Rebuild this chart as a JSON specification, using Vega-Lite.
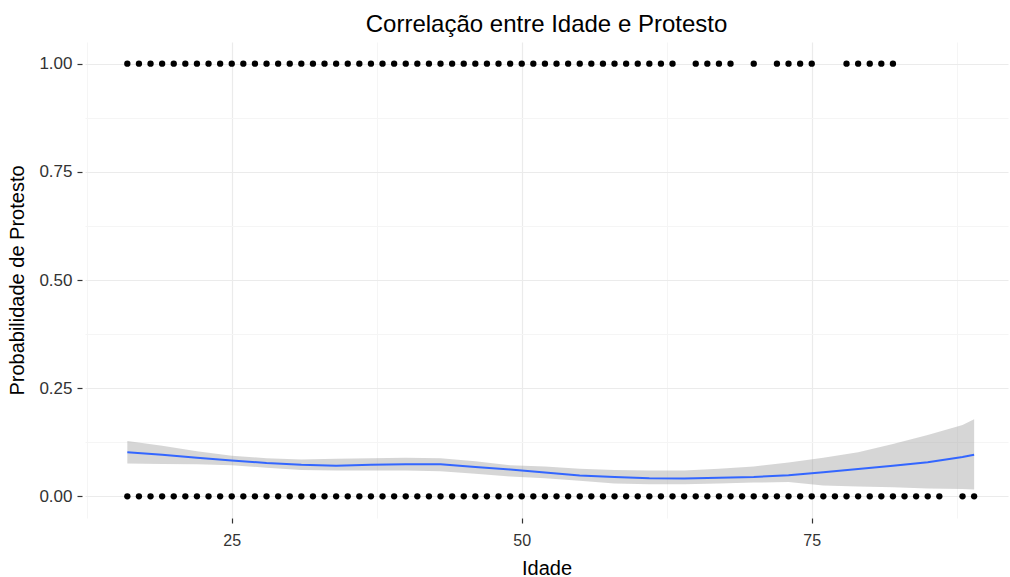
{
  "$schema": "https://vega.github.io/schema/vega-lite/v6.json",
  "width": 923,
  "height": 476,
  "autosize": {"type": "none"},
  "padding": {"left": 85, "top": 42, "right": 2, "bottom": 59},
  "title": {"text": "Correlação entre Idade e Protesto", "font": "Liberation Sans", "fontSize": 24, "fontWeight": "normal", "color": "#000000", "anchor": "middle", "offset": 5},
  "config": {
    "view": {"stroke": null},
    "axis": {"labelFont": "Liberation Sans", "titleFont": "Liberation Sans", "labelColor": "#333333", "titleColor": "#000000", "titleFontWeight": "normal", "domain": false}
  },
  "datasets": {
    "pontos": [
      {"idade": 16, "protesto": 1}, {"idade": 17, "protesto": 1}, {"idade": 18, "protesto": 1}, {"idade": 19, "protesto": 1}, {"idade": 20, "protesto": 1}, {"idade": 21, "protesto": 1}, {"idade": 22, "protesto": 1}, {"idade": 23, "protesto": 1}, {"idade": 24, "protesto": 1}, {"idade": 25, "protesto": 1}, {"idade": 26, "protesto": 1}, {"idade": 27, "protesto": 1}, {"idade": 28, "protesto": 1}, {"idade": 29, "protesto": 1}, {"idade": 30, "protesto": 1}, {"idade": 31, "protesto": 1}, {"idade": 32, "protesto": 1}, {"idade": 33, "protesto": 1}, {"idade": 34, "protesto": 1}, {"idade": 35, "protesto": 1}, {"idade": 36, "protesto": 1}, {"idade": 37, "protesto": 1}, {"idade": 38, "protesto": 1}, {"idade": 39, "protesto": 1}, {"idade": 40, "protesto": 1}, {"idade": 41, "protesto": 1}, {"idade": 42, "protesto": 1}, {"idade": 43, "protesto": 1}, {"idade": 44, "protesto": 1}, {"idade": 45, "protesto": 1}, {"idade": 46, "protesto": 1}, {"idade": 47, "protesto": 1}, {"idade": 48, "protesto": 1}, {"idade": 49, "protesto": 1}, {"idade": 50, "protesto": 1}, {"idade": 51, "protesto": 1}, {"idade": 52, "protesto": 1}, {"idade": 53, "protesto": 1}, {"idade": 54, "protesto": 1}, {"idade": 55, "protesto": 1}, {"idade": 56, "protesto": 1}, {"idade": 57, "protesto": 1}, {"idade": 58, "protesto": 1}, {"idade": 59, "protesto": 1}, {"idade": 60, "protesto": 1}, {"idade": 61, "protesto": 1}, {"idade": 62, "protesto": 1}, {"idade": 63, "protesto": 1},
      {"idade": 65, "protesto": 1}, {"idade": 66, "protesto": 1}, {"idade": 67, "protesto": 1}, {"idade": 68, "protesto": 1}, {"idade": 70, "protesto": 1}, {"idade": 72, "protesto": 1}, {"idade": 73, "protesto": 1}, {"idade": 74, "protesto": 1}, {"idade": 75, "protesto": 1}, {"idade": 78, "protesto": 1}, {"idade": 79, "protesto": 1}, {"idade": 80, "protesto": 1}, {"idade": 81, "protesto": 1}, {"idade": 82, "protesto": 1},
      {"idade": 16, "protesto": 0}, {"idade": 17, "protesto": 0}, {"idade": 18, "protesto": 0}, {"idade": 19, "protesto": 0}, {"idade": 20, "protesto": 0}, {"idade": 21, "protesto": 0}, {"idade": 22, "protesto": 0}, {"idade": 23, "protesto": 0}, {"idade": 24, "protesto": 0}, {"idade": 25, "protesto": 0}, {"idade": 26, "protesto": 0}, {"idade": 27, "protesto": 0}, {"idade": 28, "protesto": 0}, {"idade": 29, "protesto": 0}, {"idade": 30, "protesto": 0}, {"idade": 31, "protesto": 0}, {"idade": 32, "protesto": 0}, {"idade": 33, "protesto": 0}, {"idade": 34, "protesto": 0}, {"idade": 35, "protesto": 0}, {"idade": 36, "protesto": 0}, {"idade": 37, "protesto": 0}, {"idade": 38, "protesto": 0}, {"idade": 39, "protesto": 0}, {"idade": 40, "protesto": 0}, {"idade": 41, "protesto": 0}, {"idade": 42, "protesto": 0}, {"idade": 43, "protesto": 0}, {"idade": 44, "protesto": 0}, {"idade": 45, "protesto": 0}, {"idade": 46, "protesto": 0}, {"idade": 47, "protesto": 0}, {"idade": 48, "protesto": 0}, {"idade": 49, "protesto": 0}, {"idade": 50, "protesto": 0}, {"idade": 51, "protesto": 0}, {"idade": 52, "protesto": 0}, {"idade": 53, "protesto": 0}, {"idade": 54, "protesto": 0}, {"idade": 55, "protesto": 0}, {"idade": 56, "protesto": 0}, {"idade": 57, "protesto": 0}, {"idade": 58, "protesto": 0}, {"idade": 59, "protesto": 0}, {"idade": 60, "protesto": 0}, {"idade": 61, "protesto": 0}, {"idade": 62, "protesto": 0}, {"idade": 63, "protesto": 0}, {"idade": 64, "protesto": 0}, {"idade": 65, "protesto": 0}, {"idade": 66, "protesto": 0}, {"idade": 67, "protesto": 0}, {"idade": 68, "protesto": 0}, {"idade": 69, "protesto": 0}, {"idade": 70, "protesto": 0}, {"idade": 71, "protesto": 0}, {"idade": 72, "protesto": 0}, {"idade": 73, "protesto": 0}, {"idade": 74, "protesto": 0}, {"idade": 75, "protesto": 0}, {"idade": 76, "protesto": 0}, {"idade": 77, "protesto": 0}, {"idade": 78, "protesto": 0}, {"idade": 79, "protesto": 0}, {"idade": 80, "protesto": 0}, {"idade": 81, "protesto": 0}, {"idade": 82, "protesto": 0}, {"idade": 83, "protesto": 0}, {"idade": 84, "protesto": 0}, {"idade": 85, "protesto": 0}, {"idade": 86, "protesto": 0}, {"idade": 88, "protesto": 0}, {"idade": 89, "protesto": 0}
    ],
    "suave": [
      {"idade": 16, "fit": 0.102, "lo": 0.076, "hi": 0.128},
      {"idade": 19, "fit": 0.096, "lo": 0.075, "hi": 0.117},
      {"idade": 22, "fit": 0.089, "lo": 0.074, "hi": 0.104},
      {"idade": 25, "fit": 0.083, "lo": 0.072, "hi": 0.094},
      {"idade": 28, "fit": 0.077, "lo": 0.066, "hi": 0.088},
      {"idade": 31, "fit": 0.073, "lo": 0.061, "hi": 0.085},
      {"idade": 34, "fit": 0.071, "lo": 0.060, "hi": 0.087},
      {"idade": 37, "fit": 0.073, "lo": 0.060, "hi": 0.088},
      {"idade": 40, "fit": 0.074, "lo": 0.060, "hi": 0.089},
      {"idade": 43, "fit": 0.074, "lo": 0.058, "hi": 0.088},
      {"idade": 46, "fit": 0.068, "lo": 0.052, "hi": 0.081},
      {"idade": 49, "fit": 0.062, "lo": 0.046, "hi": 0.072},
      {"idade": 52, "fit": 0.055, "lo": 0.042, "hi": 0.069},
      {"idade": 55, "fit": 0.048, "lo": 0.036, "hi": 0.064},
      {"idade": 58, "fit": 0.045, "lo": 0.030, "hi": 0.061},
      {"idade": 61, "fit": 0.042, "lo": 0.028, "hi": 0.060},
      {"idade": 64, "fit": 0.041, "lo": 0.028, "hi": 0.060},
      {"idade": 67, "fit": 0.043, "lo": 0.030, "hi": 0.064},
      {"idade": 70, "fit": 0.045, "lo": 0.032, "hi": 0.069},
      {"idade": 73, "fit": 0.049, "lo": 0.033, "hi": 0.078},
      {"idade": 76, "fit": 0.056, "lo": 0.025, "hi": 0.089},
      {"idade": 79, "fit": 0.063, "lo": 0.023, "hi": 0.102},
      {"idade": 82, "fit": 0.071, "lo": 0.021, "hi": 0.121},
      {"idade": 85, "fit": 0.079, "lo": 0.018, "hi": 0.142},
      {"idade": 88, "fit": 0.091, "lo": 0.017, "hi": 0.165},
      {"idade": 89, "fit": 0.096, "lo": 0.016, "hi": 0.178}
    ]
  },
  "layer": [
    {
      "data": {"name": "suave"},
      "mark": {"type": "area", "color": "#999999", "opacity": 0.4},
      "encoding": {
        "x": {"field": "idade", "type": "quantitative", "scale": {"domain": [12.35, 91.92], "nice": false, "zero": false},
              "axis": {"orient": "bottom", "values": [12.5, 37.5, 62.5, 87.5], "grid": true, "gridColor": "#F5F5F5", "gridWidth": 1, "labels": false, "ticks": false, "domain": false, "title": null}},
        "y": {"field": "lo", "type": "quantitative", "scale": {"domain": [-0.05, 1.05], "nice": false, "zero": false},
              "axis": {"orient": "left", "values": [0.125, 0.375, 0.625, 0.875], "grid": true, "gridColor": "#F5F5F5", "gridWidth": 1, "labels": false, "ticks": false, "domain": false, "title": null}},
        "y2": {"field": "hi"}
      }
    },
    {
      "data": {"name": "suave"},
      "mark": {"type": "line", "color": "#3366FF", "strokeWidth": 2},
      "encoding": {
        "x": {"field": "idade", "type": "quantitative",
              "axis": {"orient": "bottom", "values": [25, 50, 75], "grid": true, "gridColor": "#EBEBEB", "gridWidth": 1.2, "ticks": true, "tickColor": "#333333", "tickSize": 5, "tickWidth": 1.2, "labelFontSize": 16, "labelPadding": 9, "title": "Idade", "titleFontSize": 20, "titlePadding": 10}},
        "y": {"field": "fit", "type": "quantitative",
              "axis": {"orient": "left", "values": [0, 0.25, 0.5, 0.75, 1], "format": ".2f", "grid": true, "gridColor": "#EBEBEB", "gridWidth": 1.2, "ticks": true, "tickColor": "#333333", "tickSize": 5, "tickWidth": 1.2, "offset": 3, "labelFontSize": 17, "labelPadding": 5, "title": "Probabilidade de Protesto", "titleFontSize": 20, "titlePadding": 11}}
      }
    },
    {
      "data": {"name": "pontos"},
      "mark": {"type": "point", "filled": true, "color": "#000000", "opacity": 1, "size": 40},
      "encoding": {
        "x": {"field": "idade", "type": "quantitative", "axis": null},
        "y": {"field": "protesto", "type": "quantitative", "axis": null}
      }
    }
  ],
  "resolve": {"axis": {"x": "independent", "y": "independent"}}
}
